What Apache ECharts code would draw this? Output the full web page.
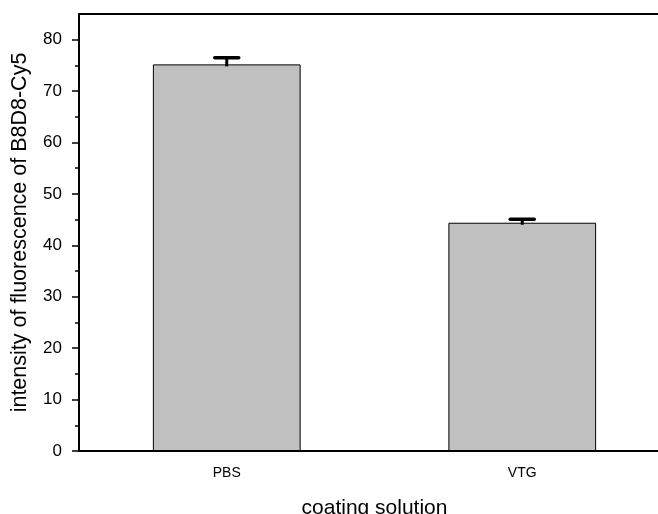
<!DOCTYPE html>
<html>
<head>
<meta charset="utf-8">
<script src="https://cdn.jsdelivr.net/npm/echarts@6/dist/echarts.min.js"></script>
<style>
  html, body { margin: 0; padding: 0; background: #fff; }
  #chart { width: 658px; height: 514px; }
</style>
</head>
<body>
<div id="chart"></div>
<script>
// Fluorescence intensity by coating solution
const categories = ['PBS', 'VTG'];
const intensity = [75.2, 44.4];
const errorPlus = [1.3, 0.7];
const majorTicks = [0, 10, 20, 30, 40, 50, 60, 70, 80];
const minorTicks = [5, 15, 25, 35, 45, 55, 65, 75];

const FONT = '"Liberation Sans", Arial, sans-serif';
const chart = echarts.init(document.getElementById('chart'));

const errorData = categories.map((c, i) => [i, intensity[i], errorPlus[i]]);

chart.setOption({
  animation: false,
  grid: { left: 79, top: 14, bottom: 63, width: 591, containLabel: false, outerBoundsMode: 'none' },
  xAxis: [
    {
      type: 'category', data: categories, position: 'bottom',
      axisLine: { lineStyle: { color: '#000', width: 2 } },
      axisTick: { alignWithLabel: true, length: 5, lineStyle: { color: '#000', width: 1.5 } },
      axisLabel: { color: '#000', fontFamily: FONT, fontSize: 14, margin: 15 },
      name: 'coating solution', nameLocation: 'middle', nameGap: 47,
      nameTextStyle: { color: '#000', fontFamily: FONT, fontSize: 21 }
    },
    {
      type: 'category', data: categories, position: 'bottom',
      axisLine: { show: false },
      axisTick: { alignWithLabel: false, length: 4, lineStyle: { color: '#000', width: 1.5 } },
      axisLabel: { show: false }
    },
    {
      type: 'category', data: categories, position: 'top',
      axisLine: { lineStyle: { color: '#000', width: 2 } },
      axisTick: { show: false }, axisLabel: { show: false }
    }
  ],
  yAxis: [
    {
      type: 'value', min: 0, max: 85, interval: 5,
      axisLine: { show: true, lineStyle: { color: '#000', width: 2 } },
      axisTick: { show: true, length: 7, customValues: majorTicks, lineStyle: { color: '#000', width: 1.5 } },
      axisLabel: { color: '#000', fontFamily: FONT, fontSize: 17, margin: 17, customValues: majorTicks },
      splitLine: { show: false },
      name: 'intensity of fluorescence of B8D8-Cy5', nameLocation: 'middle', nameGap: 48,
      nameTextStyle: { color: '#000', fontFamily: FONT, fontSize: 21.5 }
    },
    {
      type: 'value', min: 0, max: 85, position: 'left',
      axisLine: { show: false },
      axisTick: { show: true, length: 4, customValues: minorTicks, lineStyle: { color: '#000', width: 1.5 } },
      axisLabel: { show: false },
      splitLine: { show: false }
    }
  ],
  series: [
    {
      type: 'bar', data: intensity, barWidth: '50%', xAxisIndex: 0, yAxisIndex: 0,
      itemStyle: { color: '#c0c0c0', borderColor: '#000', borderWidth: 1 }
    },
    {
      type: 'custom', xAxisIndex: 0, yAxisIndex: 0, data: errorData, z: 5,
      renderItem: function (params, api) {
        const i = api.value(0);
        const base = api.coord([i, api.value(1)]);
        const top = api.coord([i, api.value(1) + api.value(2)]);
        const half = 12;
        return {
          type: 'group',
          children: [
            { type: 'line', shape: { x1: base[0], y1: base[1] + 2, x2: top[0], y2: top[1] },
              style: { stroke: '#000', lineWidth: 3 } },
            { type: 'line', shape: { x1: top[0] - half, y1: top[1], x2: top[0] + half, y2: top[1] },
              style: { stroke: '#000', lineWidth: 3.5, lineCap: 'round' } }
          ]
        };
      }
    }
  ]
});
</script>
</body>
</html>
